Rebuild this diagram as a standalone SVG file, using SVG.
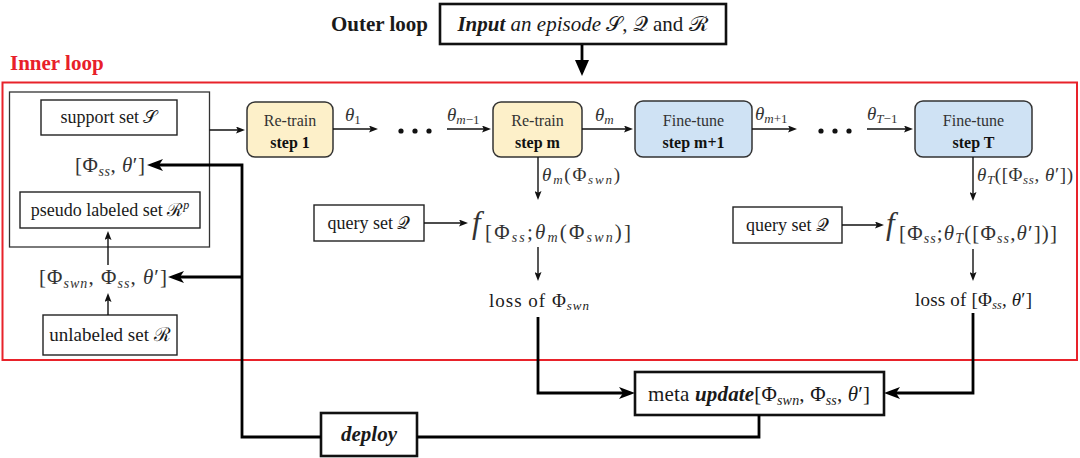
<svg xmlns="http://www.w3.org/2000/svg" width="1080" height="458" viewBox="0 0 1080 458">
<defs>
<style>
.t{fill:#1a1a1a}
.m{fill:#333}
.i{font-style:italic}
.b{font-weight:bold}
.box{fill:#fff;stroke:#222;stroke-width:1.4}
.tbox{fill:#fff;stroke:#111;stroke-width:2.6}
.rt{fill:#fdf0c9;stroke:#333;stroke-width:1.5}
.ft{fill:#cfe2f4;stroke:#333;stroke-width:1.5}
.thin{fill:none;stroke:#111;stroke-width:1.4}
.thick{fill:none;stroke:#000;stroke-width:2.8}
.st{fill:#333;font-size:16px}
.sb{fill:#111;font-size:16px;font-weight:bold}
</style>
<marker id="a" markerUnits="userSpaceOnUse" markerWidth="9" markerHeight="7" refX="6" refY="3.5" orient="auto">
<path d="M0,0 L9,3.5 L0,7 L1.8,3.5 z" fill="#111"/>
</marker>
<marker id="A" markerUnits="userSpaceOnUse" markerWidth="16" markerHeight="12" refX="11" refY="6" orient="auto">
<path d="M0,0 L16,6 L0,12 L4,6 z" fill="#000"/>
</marker>
<marker id="T" markerUnits="userSpaceOnUse" markerWidth="16" markerHeight="14" refX="12" refY="7" orient="auto">
<path d="M0,0 L16,7 L0,14 z" fill="#000"/>
</marker>
</defs>

<text class="t b" style="font-family:'Liberation Serif',serif" x="331" y="31" font-size="21">Outer loop</text>
<g id="input">
<rect class="tbox" x="440" y="4" width="286" height="40"/>
<text class="t" style="font-family:'Liberation Serif',serif" x="583" y="31" font-size="21" text-anchor="middle"><tspan class="b i">Input</tspan><tspan class="i"> an episode</tspan>  𝒮, 𝒬 and ℛ</text>
</g>

<text style="font-family:'Liberation Serif',serif" x="10" y="70" font-size="21" font-weight="bold" fill="#e8202a">Inner loop</text>
<rect id="inner-loop" x="2.5" y="82.5" width="1074.5" height="277.5" fill="none" stroke="#e8222a" stroke-width="2"/>

<g id="left-container">
<rect x="9.5" y="92" width="200" height="155" fill="none" stroke="#333" stroke-width="1.3"/>
</g>
<g id="support">
<rect class="box" x="41" y="100" width="136" height="35"/>
<text class="t" style="font-family:'Liberation Serif',serif" x="109" y="123" font-size="18" text-anchor="middle">support set 𝒮</text>
</g>
<g id="phi-ss">
<text class="m" style="font-family:'Liberation Serif',serif" x="75" y="172" font-size="21" textLength="70">[Φ<tspan class="i" font-size="14" dy="4">ss</tspan><tspan dy="-4">, </tspan><tspan class="i">θ</tspan>′]</text>
</g>
<g id="pseudo">
<rect class="box" x="20" y="192" width="180" height="36"/>
<text class="t" style="font-family:'Liberation Serif',serif" x="110" y="216" font-size="18" text-anchor="middle">pseudo labeled set ℛ<tspan class="i" font-size="12" dy="-7">p</tspan></text>
</g>
<g id="phi-all">
<text class="m" style="font-family:'Liberation Serif',serif" x="39" y="284" font-size="21" textLength="128">[Φ<tspan class="i" font-size="14" dy="4">swn</tspan><tspan dy="-4">, Φ</tspan><tspan class="i" font-size="14" dy="4">ss</tspan><tspan dy="-4">, </tspan><tspan class="i">θ</tspan>′]</text>
</g>
<g id="unlabeled">
<rect class="box" x="43" y="315" width="134" height="40"/>
<text class="t" style="font-family:'Liberation Serif',serif" x="110" y="341" font-size="19" text-anchor="middle">unlabeled set ℛ</text>
</g>

<g id="step1">
<rect class="rt" x="247" y="102" width="86" height="55" rx="8"/>
<text class="st" style="font-family:'Liberation Serif',serif" x="290" y="126" text-anchor="middle">Re-train</text>
<text class="sb" style="font-family:'Liberation Serif',serif" x="290" y="148" text-anchor="middle">step 1</text>
</g>
<g id="stepm">
<rect class="rt" x="493" y="102" width="89" height="55" rx="8"/>
<text class="st" style="font-family:'Liberation Serif',serif" x="537.5" y="126" text-anchor="middle">Re-train</text>
<text class="sb" style="font-family:'Liberation Serif',serif" x="537.5" y="148" text-anchor="middle">step m</text>
</g>
<g id="stepm1">
<rect class="ft" x="635" y="101" width="117" height="56" rx="8"/>
<text class="st" style="font-family:'Liberation Serif',serif" x="693.5" y="126" text-anchor="middle">Fine-tune</text>
<text class="sb" style="font-family:'Liberation Serif',serif" x="693.5" y="148" text-anchor="middle">step m+1</text>
</g>
<g id="stepT">
<rect class="ft" x="915" y="101" width="117" height="56" rx="8"/>
<text class="st" style="font-family:'Liberation Serif',serif" x="973.5" y="126" text-anchor="middle">Fine-tune</text>
<text class="sb" style="font-family:'Liberation Serif',serif" x="973.5" y="148" text-anchor="middle">step T</text>
</g>

<g id="dots" fill="#111">
<circle cx="401" cy="131" r="2.6"/><circle cx="415" cy="131" r="2.6"/><circle cx="429" cy="131" r="2.6"/>
<circle cx="821" cy="131" r="2.6"/><circle cx="835" cy="131" r="2.6"/><circle cx="849" cy="131" r="2.6"/>
</g>

<g id="labels">
<text class="m" style="font-family:'Liberation Serif',serif" x="345" y="121" font-size="19"><tspan class="i">θ</tspan><tspan font-size="13" dy="3">1</tspan></text>
<text class="m" style="font-family:'Liberation Serif',serif" x="447" y="121" font-size="19"><tspan class="i">θ</tspan><tspan font-size="13" dy="3"><tspan class="i">m</tspan>−1</tspan></text>
<text class="m" style="font-family:'Liberation Serif',serif" x="595" y="121" font-size="19"><tspan class="i">θ</tspan><tspan class="i" font-size="13" dy="3">m</tspan></text>
<text class="m" style="font-family:'Liberation Serif',serif" x="755" y="120" font-size="19"><tspan class="i">θ</tspan><tspan font-size="13" dy="3"><tspan class="i">m</tspan>+1</tspan></text>
<text class="m" style="font-family:'Liberation Serif',serif" x="867" y="120" font-size="19"><tspan class="i">θ</tspan><tspan font-size="13" dy="3"><tspan class="i">T</tspan>−1</tspan></text>
<text class="m" style="font-family:'Liberation Serif',serif" x="542" y="181" font-size="19" textLength="78"><tspan class="i">θ</tspan><tspan class="i" font-size="13" dy="3">m</tspan><tspan dy="-3">(Φ</tspan><tspan class="i" font-size="13" dy="3">swn</tspan><tspan dy="-3">)</tspan></text>
<text class="m" style="font-family:'Liberation Serif',serif" x="977" y="181" font-size="19" textLength="96"><tspan class="i">θ</tspan><tspan class="i" font-size="13" dy="3">T</tspan><tspan dy="-3">([Φ</tspan><tspan class="i" font-size="13" dy="3">ss</tspan><tspan dy="-3">, </tspan><tspan class="i">θ</tspan>′])</text>
</g>

<g id="query1">
<rect class="box" x="314" y="205" width="110" height="36"/>
<text class="t" style="font-family:'Liberation Serif',serif" x="369" y="229" font-size="18" text-anchor="middle">query set 𝒬</text>
</g>
<g id="f1">
<text class="m" style="font-family:'Liberation Serif',serif" x="472" y="233" font-size="31"><tspan class="i">f</tspan></text>
<text class="m" style="font-family:'Liberation Serif',serif" x="485" y="239" font-size="21" textLength="146">[Φ<tspan class="i" font-size="14" dy="3">ss</tspan><tspan dy="-3">;</tspan><tspan class="i">θ</tspan><tspan class="i" font-size="14" dy="3">m</tspan><tspan dy="-3">(Φ</tspan><tspan class="i" font-size="14" dy="3">swn</tspan><tspan dy="-3">)]</tspan></text>
</g>
<g id="loss1">
<text class="t" style="font-family:'Liberation Serif',serif" x="489" y="307" font-size="19" textLength="100">loss of Φ<tspan class="i" font-size="13" dy="3">swn</tspan></text>
</g>

<g id="query2">
<rect class="box" x="733" y="207" width="109" height="36"/>
<text class="t" style="font-family:'Liberation Serif',serif" x="787.5" y="231" font-size="18" text-anchor="middle">query set 𝒬</text>
</g>
<g id="f2">
<text class="m" style="font-family:'Liberation Serif',serif" x="886" y="234" font-size="31"><tspan class="i">f</tspan></text>
<text class="m" style="font-family:'Liberation Serif',serif" x="899" y="240" font-size="21" textLength="158">[Φ<tspan class="i" font-size="14" dy="3">ss</tspan><tspan dy="-3">;</tspan><tspan class="i">θ</tspan><tspan class="i" font-size="14" dy="3">T</tspan><tspan dy="-3">([Φ</tspan><tspan class="i" font-size="14" dy="3">ss</tspan><tspan dy="-3">,</tspan><tspan class="i">θ</tspan>′])]</text>
</g>
<g id="loss2">
<text class="t" style="font-family:'Liberation Serif',serif" x="915" y="306" font-size="19" textLength="117">loss of [Φ<tspan class="i" font-size="12" dy="3">ss</tspan><tspan dy="-3">, </tspan><tspan class="i">θ</tspan>′]</text>
</g>

<g id="meta">
<rect class="tbox" x="635" y="372" width="249" height="43"/>
<text class="t" style="font-family:'Liberation Serif',serif" x="759" y="401" font-size="21" text-anchor="middle" textLength="222">meta <tspan class="b i">update</tspan>[Φ<tspan class="i" font-size="14" dy="4">swn</tspan><tspan dy="-4">, Φ</tspan><tspan class="i" font-size="14" dy="4">ss</tspan><tspan dy="-4">, </tspan><tspan class="i">θ</tspan>′]</text>
</g>
<g id="deploy">
<rect class="tbox" x="321" y="413" width="96" height="43"/>
<text class="t b i" style="font-family:'Liberation Serif',serif" x="369" y="441" font-size="21" text-anchor="middle">deploy</text>
</g>

<g id="connectors">
<path class="thick" d="M582,45 V72" marker-end="url(#T)"/>
<path class="thin" d="M209.5,130 H242" marker-end="url(#a)"/>
<path class="thin" d="M333,129 H375" marker-end="url(#a)"/>
<path class="thin" d="M447,129 H488" marker-end="url(#a)"/>
<path class="thin" d="M582,129 H630" marker-end="url(#a)"/>
<path class="thin" d="M752,129 H794" marker-end="url(#a)"/>
<path class="thin" d="M867,129 H910" marker-end="url(#a)"/>
<path class="thin" d="M538,157 V197" marker-end="url(#a)"/>
<path class="thin" d="M973,157 V198" marker-end="url(#a)"/>
<path class="thin" d="M424,223 H465" marker-end="url(#a)"/>
<path class="thin" d="M842,225 H881" marker-end="url(#a)"/>
<path class="thin" d="M538,247 V278" marker-end="url(#a)"/>
<path class="thin" d="M973,249 V278" marker-end="url(#a)"/>
<path class="thin" d="M108,265 V234" marker-end="url(#a)"/>
<path class="thin" d="M108,315 V296" marker-end="url(#a)"/>
<path class="thick" d="M538,317 V393 H630" marker-end="url(#A)"/>
<path class="thick" d="M973,313 V393 H889" marker-end="url(#A)"/>
<path class="thick" d="M759,415 V437 H417"/>
<path class="thick" d="M321,437 H242 V165 H152" marker-end="url(#A)"/>
<path class="thick" d="M242,277 H173" marker-end="url(#A)"/>
</g>
</svg>
